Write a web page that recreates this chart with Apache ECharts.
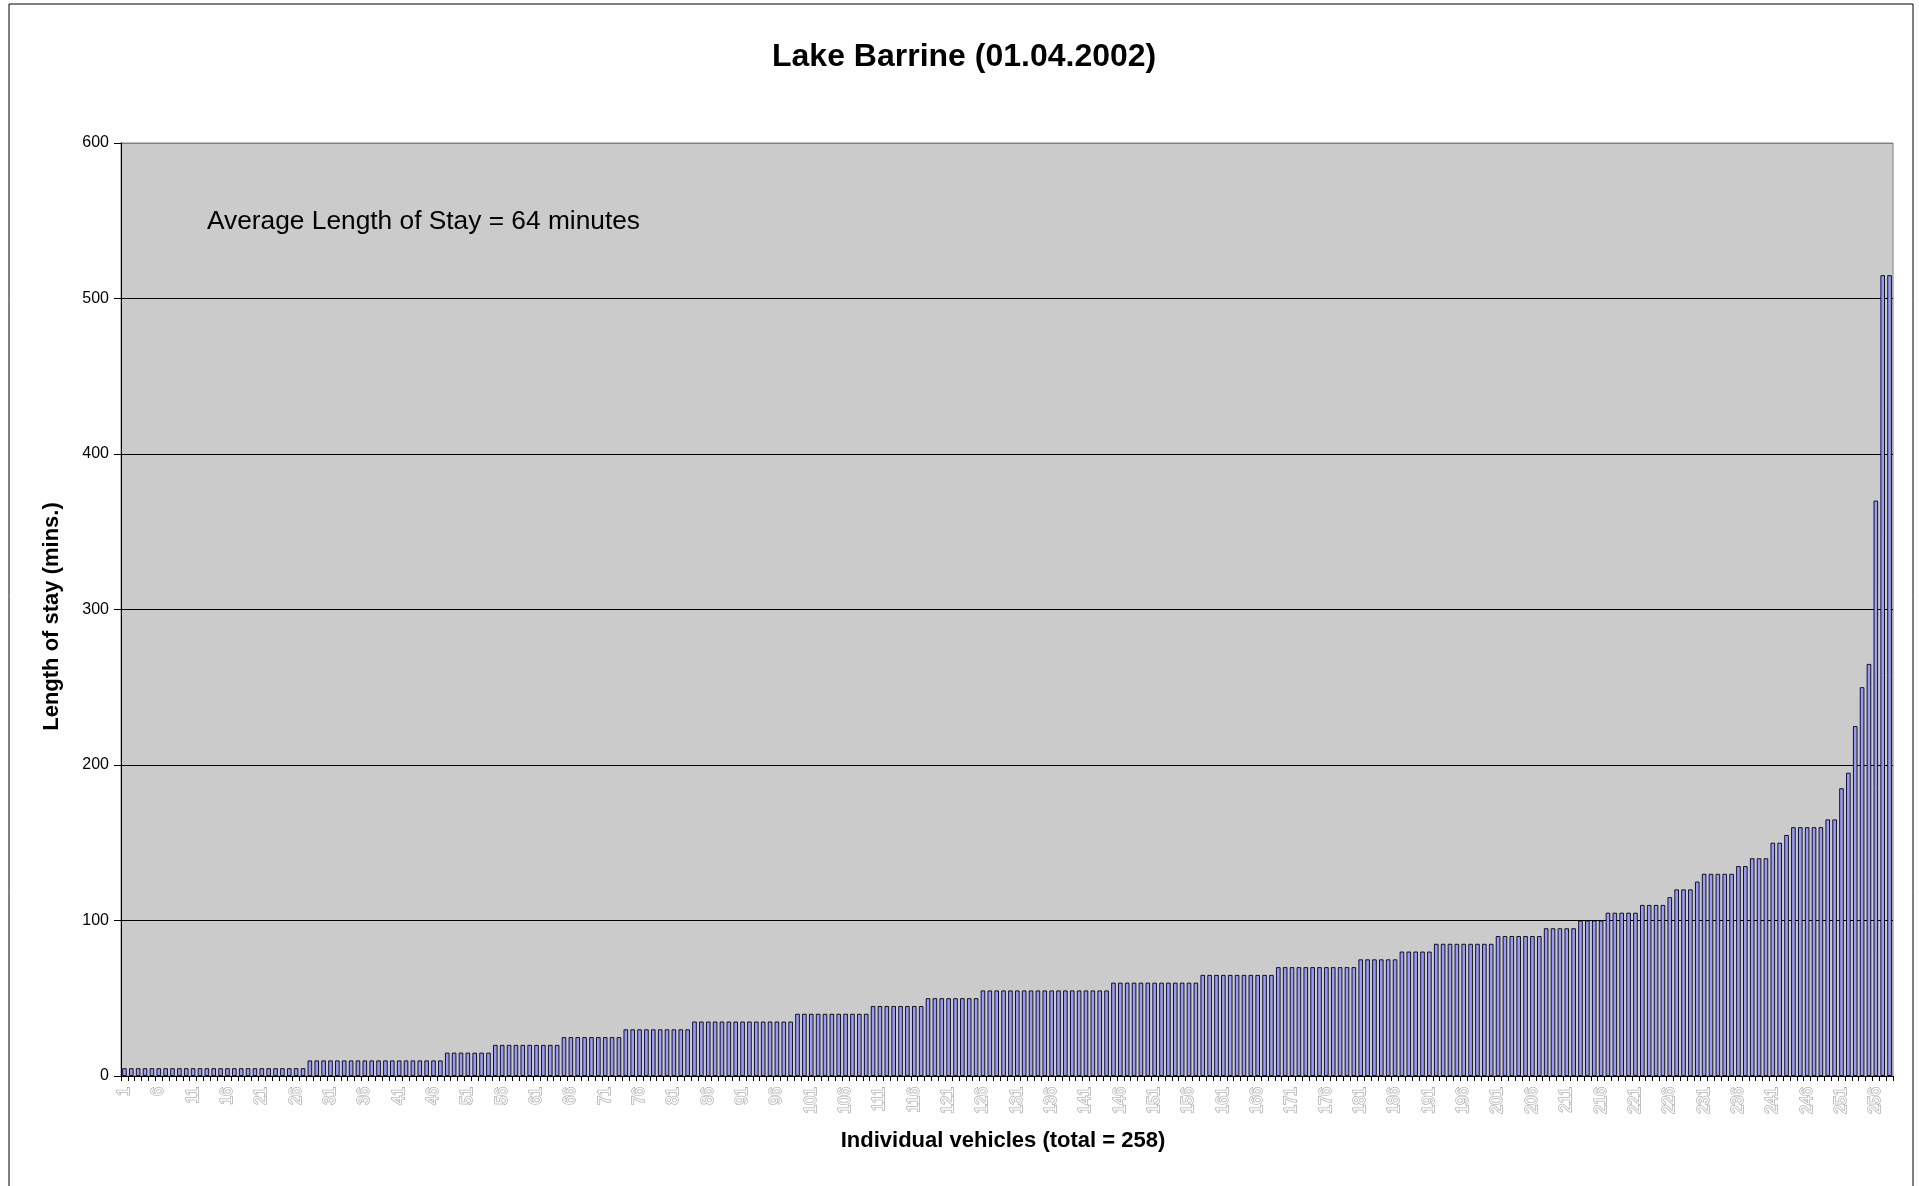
<!DOCTYPE html>
<html>
<head>
<meta charset="utf-8">
<script src="https://cdn.jsdelivr.net/npm/echarts@6/dist/echarts.min.js"></script>
<style>
  html, body { margin: 0; padding: 0; background: #ffffff; }
  #chart { width: 1919px; height: 1186px; }
</style>
</head>
<body>
<div id="chart"></div>
<script>
// Text shown on the chart
const chartTitle = 'Lake Barrine (01.04.2002)';
const averageNote = 'Average Length of Stay = 64 minutes';
const yAxisTitle = 'Length of stay (mins.)';
const xAxisTitle = 'Individual vehicles (total = 258)';

// Value axis ticks (minutes)
const yTicks = [0, 100, 200, 300, 400, 500, 600];

// Length of stay for each vehicle, sorted from shortest to longest (minutes)
const stayMinutes = [
  5, 5, 5, 5, 5, 5, 5, 5, 5, 5,
  5, 5, 5, 5, 5, 5, 5, 5, 5, 5,
  5, 5, 5, 5, 5, 5, 5, 10, 10, 10,
  10, 10, 10, 10, 10, 10, 10, 10, 10, 10,
  10, 10, 10, 10, 10, 10, 10, 15, 15, 15,
  15, 15, 15, 15, 20, 20, 20, 20, 20, 20,
  20, 20, 20, 20, 25, 25, 25, 25, 25, 25,
  25, 25, 25, 30, 30, 30, 30, 30, 30, 30,
  30, 30, 30, 35, 35, 35, 35, 35, 35, 35,
  35, 35, 35, 35, 35, 35, 35, 35, 40, 40,
  40, 40, 40, 40, 40, 40, 40, 40, 40, 45,
  45, 45, 45, 45, 45, 45, 45, 50, 50, 50,
  50, 50, 50, 50, 50, 55, 55, 55, 55, 55,
  55, 55, 55, 55, 55, 55, 55, 55, 55, 55,
  55, 55, 55, 55, 60, 60, 60, 60, 60, 60,
  60, 60, 60, 60, 60, 60, 60, 65, 65, 65,
  65, 65, 65, 65, 65, 65, 65, 65, 70, 70,
  70, 70, 70, 70, 70, 70, 70, 70, 70, 70,
  75, 75, 75, 75, 75, 75, 80, 80, 80, 80,
  80, 85, 85, 85, 85, 85, 85, 85, 85, 85,
  90, 90, 90, 90, 90, 90, 90, 95, 95, 95,
  95, 95, 100, 100, 100, 100, 105, 105, 105, 105,
  105, 110, 110, 110, 110, 115, 120, 120, 120, 125,
  130, 130, 130, 130, 130, 135, 135, 140, 140, 140,
  150, 150, 155, 160, 160, 160, 160, 160, 165, 165,
  185, 195, 225, 250, 265, 370, 515, 515
];

// Category labels: vehicle numbers 1..n
const vehicles = stayMinutes.map((_, i) => String(i + 1));

const FONT = '"Liberation Sans", Arial, Helvetica, sans-serif';

const chart = echarts.init(document.getElementById('chart'), null, { renderer: 'canvas' });

chart.setOption({
  animation: false,
  backgroundColor: '#ffffff',
  title: {
    text: chartTitle,
    left: 767,
    top: 36,
    textStyle: { fontFamily: FONT, fontSize: 32, fontWeight: 'bold', color: '#000000' }
  },
  grid: {
    left: 121,
    right: 26,
    top: 143,
    bottom: 110,
    show: true,
    backgroundColor: '#cbcbcb',
    borderColor: '#808080',
    borderWidth: 1
  },
  xAxis: {
    type: 'category',
    data: vehicles,
    name: xAxisTitle,
    nameLocation: 'middle',
    nameGap: 54,
    nameTextStyle: { fontFamily: FONT, fontSize: 22, fontWeight: 'bold', color: '#000000', padding: [0, 8, 0, 0] },
    axisLine: { show: true, lineStyle: { color: '#000000', width: 1 } },
    axisTick: { show: true, interval: 0, length: 5, lineStyle: { color: '#000000', width: 1 } },
    axisLabel: {
      interval: 4,
      rotate: 90,
      margin: 11,
      fontFamily: FONT,
      fontSize: 16,
      color: '#ffffff',
      textBorderColor: '#b4b4b4',
      textBorderWidth: 1.6
    },
    splitLine: { show: false }
  },
  yAxis: {
    type: 'value',
    min: yTicks[0],
    max: yTicks[yTicks.length - 1],
    interval: yTicks[1] - yTicks[0],
    name: yAxisTitle,
    nameLocation: 'middle',
    nameGap: 58,
    nameTextStyle: { fontFamily: FONT, fontSize: 22, fontWeight: 'bold', color: '#000000', padding: [0, 14, 0, 0] },
    axisLine: { show: true, lineStyle: { color: '#000000', width: 1 } },
    axisTick: { show: true, length: 7, lineStyle: { color: '#000000', width: 1 } },
    axisLabel: { margin: 12, fontFamily: FONT, fontSize: 16, color: '#000000' },
    splitLine: {
      show: true,
      lineStyle: {
        color: ['#000000', '#000000', '#000000', '#000000', '#000000', '#000000', '#808080'],
        width: 1
      }
    }
  },
  series: [{
    type: 'bar',
    data: stayMinutes,
    barWidth: '66%',
    itemStyle: { color: '#9999ff', borderColor: '#000000', borderWidth: 0.9 },
    emphasis: { disabled: true }
  }],
  graphic: [
    {
      type: 'polyline',
      silent: true,
      shape: { points: [[9, 1200], [9, 4], [1913, 4], [1913, 1200]] },
      style: { stroke: '#000000', lineWidth: 1, fill: null }
    },
    {
      type: 'text',
      silent: true,
      x: 207,
      y: 222,
      style: {
        text: averageNote,
        font: '26.3px ' + FONT,
        fill: '#000000',
        verticalAlign: 'middle',
        align: 'left'
      }
    }
  ]
});
</script>
</body>
</html>
